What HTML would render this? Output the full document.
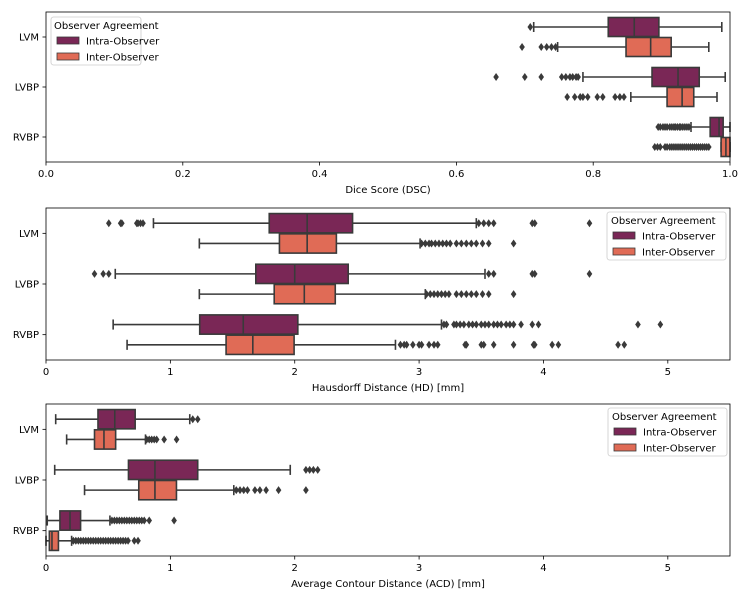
<!DOCTYPE html>
<html><head><meta charset="utf-8"><style>
body{margin:0;background:#fff;}
svg{display:block;font-family:"DejaVu Sans","Liberation Sans",sans-serif;}
</style></head><body>
<svg id="chart" width="750" height="600" xmlns="http://www.w3.org/2000/svg"></svg>
<script>
const categories = ["LVM","LVBP","RVBP"];
const seriesNames = ["Intra-Observer","Inter-Observer"];
// stats: [whiskerLow, q1, median, q3, whiskerHigh]
const dscIntra = [[0.713,0.822,0.860,0.896,0.988],[0.785,0.886,0.924,0.955,0.993],[0.943,0.971,0.984,0.990,1.0]];
const dscInter = [[0.748,0.848,0.884,0.914,0.969],[0.855,0.908,0.930,0.947,0.981],[0.987,0.987,0.994,1.0,1.0]];
const dscIntraOut = [[0.708],[0.658,0.700,0.724,0.754,0.760,0.766,0.770,0.775,0.778],[0.895,0.898,0.902,0.905,0.908,0.912,0.915,0.918,0.920,0.923,0.926,0.928,0.931,0.934,0.937,0.940]];
const dscInterOut = [[0.696,0.724,0.732,0.739,0.745],[0.762,0.773,0.781,0.785,0.792,0.806,0.814,0.832,0.839,0.845],[0.890,0.894,0.898,0.905,0.908,0.912,0.915,0.918,0.921,0.924,0.927,0.930,0.933,0.936,0.939,0.942,0.945,0.948,0.951,0.954,0.957,0.960,0.963,0.966,0.969]];
const hdIntra = [[0.864,1.795,2.10,2.465,3.46],[0.557,1.687,2.00,2.43,3.53],[0.54,1.236,1.586,2.025,3.18]];
const hdInter = [[1.233,1.877,2.10,2.335,3.008],[1.233,1.835,2.077,2.326,3.05],[0.652,1.448,1.663,1.995,2.81]];
const hdIntraOut = [[0.505,0.60,0.61,0.73,0.74,0.76,0.78,3.48,3.52,3.56,3.60,3.91,3.93,4.37],[0.39,0.46,0.505,3.56,3.60,3.91,3.93,4.37],[3.20,3.22,3.28,3.30,3.33,3.36,3.40,3.43,3.46,3.50,3.53,3.56,3.60,3.63,3.66,3.70,3.73,3.76,3.82,3.91,3.96,4.76,4.94]];
const hdInterOut = [[3.02,3.05,3.08,3.10,3.13,3.16,3.19,3.22,3.25,3.30,3.34,3.38,3.42,3.46,3.51,3.56,3.76],[3.06,3.09,3.12,3.15,3.18,3.21,3.24,3.30,3.34,3.38,3.42,3.46,3.51,3.56,3.76],[2.85,2.88,2.90,2.95,3.00,3.02,3.08,3.12,3.15,3.37,3.38,3.50,3.52,3.60,3.76,3.92,3.93,4.07,4.12,4.60,4.65]];
const acdIntra = [[0.078,0.418,0.553,0.717,1.156],[0.07,0.663,0.876,1.22,1.964],[0.01,0.112,0.193,0.278,0.514]];
const acdInter = [[0.166,0.39,0.466,0.56,0.80],[0.31,0.746,0.876,1.049,1.51],[0.0,0.027,0.048,0.10,0.206]];
const acdIntraOut = [[1.18,1.22],[2.09,2.12,2.15,2.185],[0.53,0.55,0.57,0.59,0.61,0.63,0.65,0.67,0.69,0.71,0.73,0.75,0.77,0.79,0.83,1.03]];
const acdInterOut = [[0.81,0.83,0.85,0.87,0.89,0.95,1.05],[1.53,1.56,1.59,1.62,1.68,1.72,1.77,1.87,2.09],[0.22,0.24,0.26,0.28,0.30,0.32,0.34,0.36,0.38,0.40,0.42,0.44,0.46,0.48,0.50,0.52,0.54,0.56,0.58,0.60,0.62,0.64,0.66,0.71,0.74]];
const dscTicks = ["0.0","0.2","0.4","0.6","0.8","1.0"];
const distTicks = ["0","1","2","3","4","5"];

const NS="http://www.w3.org/2000/svg";
const svg=document.getElementById('chart');
const colors=["#7a2756","#e06b56"];
const edge="#3a3a3a";
function mk(tag,attrs,parent){const e=document.createElementNS(NS,tag);for(const k in attrs)e.setAttribute(k,attrs[k]);(parent||svg).appendChild(e);return e;}

const panels=[
 {key:"dsc",top:12,bottom:162,max:1.0,ticks:dscTicks,tickVals:[0,0.2,0.4,0.6,0.8,1.0],title:"Dice Score (DSC)",stats:[dscIntra,dscInter],outs:[dscIntraOut,dscInterOut],legend:[51,17]},
 {key:"hd",top:208,bottom:360,max:5.5,ticks:distTicks,tickVals:[0,1,2,3,4,5],title:"Hausdorff Distance (HD) [mm]",stats:[hdIntra,hdInter],outs:[hdIntraOut,hdInterOut],legend:[607,212]},
 {key:"acd",top:404,bottom:556,max:5.5,ticks:distTicks,tickVals:[0,1,2,3,4,5],title:"Average Contour Distance (ACD) [mm]",stats:[acdIntra,acdInter],outs:[acdIntraOut,acdInterOut],legend:[608,408]}
];
const L=46,R=730;
panels.forEach(p=>{
  const g=mk('g',{});
  
  
  const xs=v=>L+(R-L)*v/p.max;
  const band=(p.bottom-p.top)/categories.length;
  const yc=i=>p.top+band*(i+0.5);
  const bh=band*0.4;
  categories.forEach((c,i)=>{
    [0,1].forEach(s=>{
      const st=p.stats[s][i];
      const cy=yc(i)+(s===0?-bh/2:bh/2);
      const bg=mk('g',{},g);
      
      
      mk('line',{x1:xs(st[0]),x2:xs(st[1]),y1:cy,y2:cy,stroke:edge,'stroke-width':1.6},bg);
      mk('line',{x1:xs(st[3]),x2:xs(st[4]),y1:cy,y2:cy,stroke:edge,'stroke-width':1.6},bg);
      mk('line',{x1:xs(st[0]),x2:xs(st[0]),y1:cy-bh/4,y2:cy+bh/4,stroke:edge,'stroke-width':1.6},bg);
      mk('line',{x1:xs(st[4]),x2:xs(st[4]),y1:cy-bh/4,y2:cy+bh/4,stroke:edge,'stroke-width':1.6},bg);
      mk('rect',{x:xs(st[1]),y:cy-bh/2+0.5,width:Math.max(xs(st[3])-xs(st[1]),1),height:bh-1,fill:colors[s],stroke:edge,'stroke-width':1.6},bg);
      mk('line',{x1:xs(st[2]),x2:xs(st[2]),y1:cy-bh/2+0.5,y2:cy+bh/2-0.5,stroke:edge,'stroke-width':1.6},bg);
      p.outs[s][i].forEach(v=>{
        const x=xs(v);
        const d=mk('path',{d:`M${x},${cy-4} L${x+2.8},${cy} L${x},${cy+4} L${x-2.8},${cy} Z`,fill:"#3a3a3a"},bg);
        
        
      });
    });
    const t=mk('text',{x:39,y:yc(i)+3.5,'font-size':10,'text-anchor':'end',fill:'#000'},g);
    t.textContent=c;
    
    
    mk('line',{x1:L-3.5,x2:L,y1:yc(i),y2:yc(i),stroke:'#000','stroke-width':0.8},g);
  });
  p.tickVals.forEach((v,k)=>{
    mk('line',{x1:xs(v),x2:xs(v),y1:p.bottom,y2:p.bottom+3.5,stroke:'#000','stroke-width':0.8},g);
    const t=mk('text',{x:xs(v),y:p.bottom+15,'font-size':10,'text-anchor':'middle',fill:'#000'},g);
    t.textContent=p.ticks[k];
    
    
  });
  const fr=mk('rect',{x:L,y:p.top,width:R-L,height:p.bottom-p.top,fill:'none',stroke:'#000','stroke-width':0.8},g);
  
  
  const xt=mk('text',{x:(L+R)/2,y:p.bottom+31,'font-size':10,'text-anchor':'middle',fill:'#000'},g);
  xt.textContent=p.title;
  
  
  const [lx,ly]=p.legend;
  const lg=mk('g',{},g);
  
  
  mk('rect',{x:lx,y:ly,width:(p.key==='dsc'?90:119),height:48,rx:2.5,fill:'#fff','fill-opacity':0.8,stroke:'#ccc','stroke-width':0.8},lg);
  const lt=mk('text',{x:lx+(p.key==='dsc'?3:4),y:ly+12,'font-size':10,fill:'#000'},lg);
  lt.textContent='Observer Agreement';
  seriesNames.forEach((n,s)=>{
    const yy=ly+20+s*16;
    const pr=mk('rect',{x:lx+6,y:yy,width:22,height:7,fill:colors[s],stroke:edge,'stroke-width':0.8},lg);
    
    
    const tt=mk('text',{x:lx+35,y:yy+7.5,'font-size':10,fill:'#000'},lg);
    tt.textContent=n;
    
    
  });
});
</script>
</body></html>
